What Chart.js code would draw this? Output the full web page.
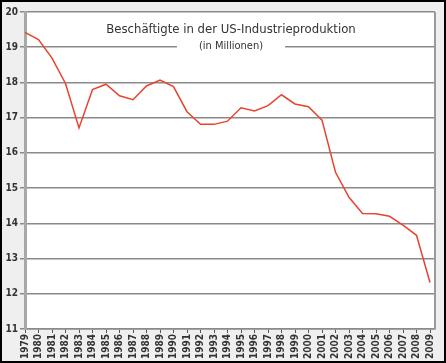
<!DOCTYPE html>
<html>
<head>
<meta charset="utf-8">
<script src="https://cdn.jsdelivr.net/npm/chart.js@4.4.1/dist/chart.umd.min.js"></script>
<style>
  html, body { margin: 0; padding: 0; background: #efefef; }
  #wrap { width: 446px; height: 363px; position: relative; }
</style>
</head>
<body>
<div id="wrap"><canvas id="jobs"></canvas></div>
<script>
// Jahre und Beschaeftigte (Mio.)
const years = [1979, 1980, 1981, 1982, 1983, 1984, 1985, 1986, 1987, 1988,
  1989, 1990, 1991, 1992, 1993, 1994, 1995, 1996, 1997, 1998,
  1999, 2000, 2001, 2002, 2003, 2004, 2005, 2006, 2007, 2008, 2009];
const employees = [19.42, 19.22, 18.69, 17.97, 16.71, 17.80, 17.95, 17.62, 17.51, 17.90,
  18.07, 17.88, 17.17, 16.81, 16.81, 16.90, 17.28, 17.19, 17.34, 17.65,
  17.39, 17.31, 16.93, 15.45, 14.74, 14.28, 14.27, 14.20, 13.95, 13.66, 12.32];
const yTicks = [11, 12, 13, 14, 15, 16, 17, 18, 19, 20];
const titleText = "Beschäftigte in der US-Industrieproduktion";
const subtitleText = "(in Millionen)";

const points = years.map(function (y, i) { return { x: y, y: employees[i] }; });

// Hintergrund, Rahmen und Titel
const decor = {
  id: 'decor',
  beforeDraw: function (chart) {
    const c = chart.ctx, a = chart.chartArea;
    c.save();
    c.fillStyle = '#efefef';
    c.fillRect(0, 0, chart.width, chart.height);
    c.fillStyle = '#ffffff';
    c.fillRect(a.left, a.top, a.right - a.left, a.bottom - a.top);
    c.restore();
  },
  afterDatasetsDraw: function (chart) {
    const c = chart.ctx, a = chart.chartArea;
    c.save();
    // rechter Rand
    c.strokeStyle = '#9a9a9a';
    c.lineWidth = 2;
    c.beginPath();
    c.moveTo(a.right, a.top);
    c.lineTo(a.right, a.bottom);
    c.stroke();
    // Titel
    const cx = 231;
    c.fillStyle = '#333333';
    c.textAlign = 'center';
    c.textBaseline = 'middle';
    c.font = '13px "DejaVu Sans Condensed", sans-serif';
    c.fillText(titleText, cx, 30);
    c.font = '11px "DejaVu Sans Condensed", sans-serif';
    const w = c.measureText(subtitleText).width;
    c.fillStyle = '#ffffff';
    c.fillRect(cx - w / 2 - 22, 39, w + 44, 14);
    c.fillStyle = '#333333';
    c.fillText(subtitleText, cx, 46);
    // aeusserer Rahmen
    c.strokeStyle = '#000000';
    c.lineWidth = 2;
    c.strokeRect(1, 1, chart.width - 2, chart.height - 2);
    c.restore();
  }
};

new Chart(document.getElementById('jobs'), {
  type: 'line',
  data: {
    datasets: [{
      data: points,
      borderColor: '#e8432c',
      borderWidth: 1.5,
      pointRadius: 0,
      tension: 0,
      fill: false
    }]
  },
  options: {
    responsive: true,
    maintainAspectRatio: false,
    animation: false,
    layout: { padding: { top: 12, right: 11, left: 0, bottom: 0 } },
    plugins: { legend: { display: false }, tooltip: { enabled: false } },
    scales: {
      x: {
        type: 'linear',
        min: 1979,
        max: 2009.37,
        afterBuildTicks: function (scale) {
          scale.ticks = years.map(function (v) { return { value: v }; });
        },
        afterFit: function (scale) { scale.height = 34; },
        ticks: {
          autoSkip: false,
          minRotation: 90,
          maxRotation: 90,
          padding: 1,
          color: '#333333',
          font: { family: '"DejaVu Sans Condensed", sans-serif', size: 10, weight: 'bold' },
          callback: function (v) { return String(v); }
        },
        grid: { drawOnChartArea: false, drawTicks: true, tickLength: 4, color: '#555555' },
        border: { display: true, color: '#8a8a8a', width: 1.5 }
      },
      y: {
        min: 11,
        max: 20,
        afterBuildTicks: function (scale) {
          scale.ticks = yTicks.map(function (v) { return { value: v }; });
        },
        afterFit: function (scale) { scale.width = 25; },
        ticks: {
          padding: 2,
          color: '#333333',
          font: { family: '"DejaVu Sans Condensed", sans-serif', size: 10, weight: 'bold' }
        },
        grid: { color: '#8a8a8a', lineWidth: 1.5, tickLength: 5 },
        border: { display: true, color: '#a8a8a8', width: 3 }
      }
    }
  },
  plugins: [decor]
});
</script>
</body>
</html>
